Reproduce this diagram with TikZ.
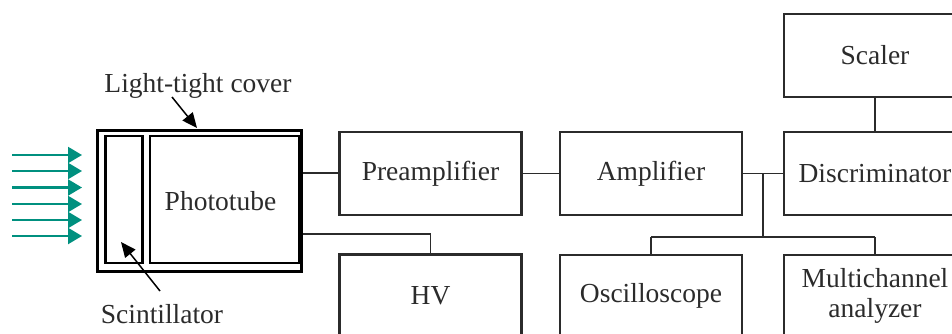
\documentclass[tikz,border=0pt]{standalone}
\usepackage{fontspec}
\setmainfont{Liberation Serif}
\usetikzlibrary{arrows.meta}
\definecolor{ink}{HTML}{2B2B2B}
\definecolor{teal}{HTML}{00907F}
\begin{document}
\begin{tikzpicture}[x=1pt,y=-1pt,
  every node/.style={font=\fontsize{27.5}{30}\selectfont, text=ink},
  unit/.style={draw=ink, line width=2pt, minimum width=182pt, minimum height=83pt, inner sep=0pt},
  thickunit/.style={unit, line width=2.6pt},
  wire/.style={draw=ink, line width=1.4pt},
  pointer/.style={draw=black, line width=1.5pt, -{Triangle[length=15pt,width=13pt]}},
  ray/.style={draw=teal, line width=2.2pt, -{Triangle[length=14pt,width=16pt]}}]
\useasboundingbox (0,0) rectangle (952,333);
\clip (0,0) rectangle (952,333);

% detector assembly: light-tight cover, scintillator and phototube
\node[draw=black, line width=3pt, minimum width=204pt, minimum height=141pt, inner sep=0pt] (cover) at (199.5,201) {};
\node[draw=black, line width=2.4pt, minimum width=37pt, minimum height=127pt, inner sep=0pt] (scint) at (124,199.5) {};
\node[draw=black, line width=2.4pt, minimum width=149pt, minimum height=127pt, inner sep=0pt] (tube) at (224.5,199.5) {};
\node at (220.5,201) {Phototube};

% incoming radiation
\foreach \y/\n in {155/r1,171/r2,187.5/r3,204/r4,220/r5,236/r6}{
  \coordinate (\n s) at (12,\y);
  \coordinate (\n e) at (82,\y);
  \draw[ray] (\n s) -- (\n e);
}

% labels with pointers
\node (coverlbl) at (198,86) {Light-tight cover};
\coordinate (coverptr) at (197,128);
\draw[pointer] (172,97) -- (coverptr);
\node (scintlbl) at (162,314) {Scintillator};
\coordinate (scintptr) at (121,242);
\draw[pointer] (160,291) -- (scintptr);

% electronics chain
\node[thickunit] (pre) at (430.5,173.5) {Preamplifier};
\node[thickunit] (hv) at (430.5,296) {HV};
\node[unit] (amp) at (651,173.5) {Amplifier};
\node[unit] (disc) at (875,173.5) {Discriminator};
\node[unit] (scaler) at (875,55.5) {Scaler};
\node[unit] (osc) at (651,296) {Oscilloscope};
\node[unit, align=center, font=\fontsize{27.5}{30}\selectfont] (mca) at (875,296) {Multichannel\\analyzer};

% wiring
\draw[wire] (cover.east |- 0,173) -- (pre.west |- 0,173);
\draw[wire] (cover.east |- 0,234) -| (hv.north);
\draw[wire] (pre.east) -- (amp.west);
\draw[wire] (amp.east) -- (disc.west);
\draw[wire] (scaler.south) -- (disc.north);
\coordinate (tap) at (763,173.5);
\coordinate (bus) at (763,237);
\draw[wire] (tap) -- (bus);
\draw[wire] (osc.north |- bus) -- (mca.north |- bus);
\draw[wire] (osc.north |- bus) -- (osc.north);
\draw[wire] (mca.north |- bus) -- (mca.north);
\end{tikzpicture}
\end{document}
